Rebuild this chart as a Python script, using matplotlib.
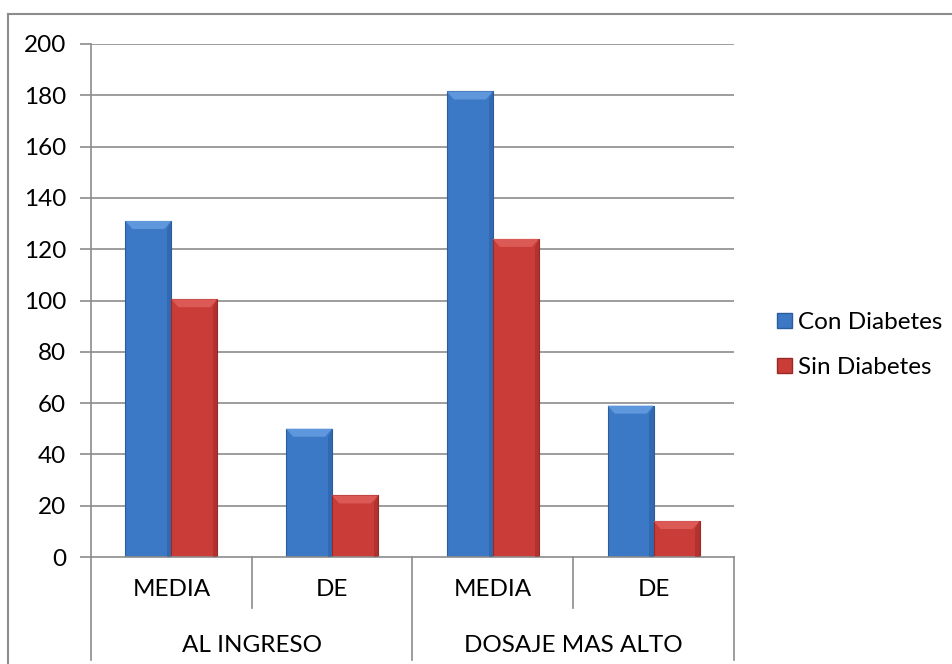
import matplotlib
matplotlib.use("Agg")
import matplotlib.pyplot as plt
from matplotlib.patches import Patch, Polygon
from matplotlib.lines import Line2D
import matplotlib.transforms as mtransforms

# ---- data ----
subcategories = ["MEDIA", "DE", "MEDIA", "DE"]
groups = ["AL INGRESO", "DOSAJE MAS ALTO"]
series_names = ["Con Diabetes", "Sin Diabetes"]
con_diabetes = [131, 50, 181.5, 59]
sin_diabetes = [100.5, 24, 124, 14]
yticks = [0, 20, 40, 60, 80, 100, 120, 140, 160, 180, 200]

colors = {"face": ["#3b78c6", "#c93c38"],
          "top": ["#5f97dc", "#dc5a55"],
          "side": ["#2c5c9c", "#9a2926"]}

plt.rcParams["font.family"] = ["Lato", "DejaVu Sans"]
FS = 17.5

W, H = 953, 664
fig = plt.figure(figsize=(W / 100, H / 100), dpi=100)
L, R, T, B = 91, 734, 44, 557
ax = fig.add_axes([L / W, 1 - B / H, (R - L) / W, (B - T) / H])

ax.set_xlim(0, len(subcategories))
ax.set_ylim(0, 200)

grid_c = "#8c8c8c"
for y in yticks[1:]:
    ax.axhline(y, color=grid_c, lw=1.2, zorder=0)

bw = 0.286
px_x = (R - L) / len(subcategories)   # px per x unit
px_y = (B - T) / 200.0                # px per y unit
dx = 7 / px_x
dy = 8 / px_y

for si, vals in enumerate([con_diabetes, sin_diabetes]):
    for i, v in enumerate(vals):
        x0 = i + 0.5 - bw + si * bw
        x1 = x0 + bw
        ax.bar(x0, v, width=bw, align="edge", color=colors["face"][si],
               edgecolor=colors["side"][si], linewidth=0.8, zorder=2)
        # bevel highlights
        top = Polygon([(x0, v), (x1, v), (x1 - dx, v - dy), (x0 + dx, v - dy)],
                      closed=True, facecolor=colors["top"][si], edgecolor="none", zorder=3)
        right = Polygon([(x1, v), (x1, 0), (x1 - dx * 0.6, 0), (x1 - dx * 0.6, v - dy)],
                        closed=True, facecolor=colors["side"][si], edgecolor="none",
                        alpha=0.5, zorder=3)
        ax.add_patch(top)
        ax.add_patch(right)

ax.set_yticks(yticks)
ax.set_yticklabels([str(t) for t in yticks], fontsize=FS)
ax.tick_params(axis="y", length=8, width=1.2, color=grid_c, pad=10)
ax.set_xticks([])
for s in ["top", "right"]:
    ax.spines[s].set_visible(False)
ax.spines["left"].set_color(grid_c)
ax.spines["left"].set_linewidth(1.2)
ax.spines["bottom"].set_color(grid_c)
ax.spines["bottom"].set_linewidth(1.2)

trans = mtransforms.blended_transform_factory(ax.transData, ax.transAxes)
ah = B - T
sub_bottom = -(608 - B) / ah
grp_bottom = -(660 - B) / ah
for x in [1, 3]:
    ax.add_line(Line2D([x, x], [0, sub_bottom], transform=trans, color=grid_c,
                       lw=1.2, clip_on=False))
for x in [0, 2, 4]:
    ax.add_line(Line2D([x, x], [0, grp_bottom], transform=trans, color=grid_c,
                       lw=1.2, clip_on=False))

for i, lab in enumerate(subcategories):
    ax.text(i + 0.5, -(590 - B) / ah, lab, transform=trans, ha="center",
            va="center", fontsize=FS)
for g, lab in enumerate(groups):
    ax.text(2 * g + 1, -(645 - B) / ah, lab, transform=trans, ha="center",
            va="center", fontsize=FS)

# chart frame (left and top visible)
fig.add_artist(Line2D([8 / W, 8 / W], [0, 1 - 14 / H], transform=fig.transFigure,
                      color="#8c8c8c", lw=1.5))
fig.add_artist(Line2D([8 / W, 1], [1 - 14 / H, 1 - 14 / H], transform=fig.transFigure,
                      color="#8c8c8c", lw=1.5))

handles = [Patch(facecolor=colors["face"][k], edgecolor=colors["side"][k])
           for k in range(2)]
fig.legend(handles, series_names, loc="center left",
           bbox_to_anchor=(777 / W, 1 - 345 / H), frameon=False, fontsize=FS,
           handlelength=0.6, handleheight=0.6, handletextpad=0.25,
           labelspacing=1.0, borderaxespad=0, borderpad=0)

fig.savefig("out.png", dpi=100)
